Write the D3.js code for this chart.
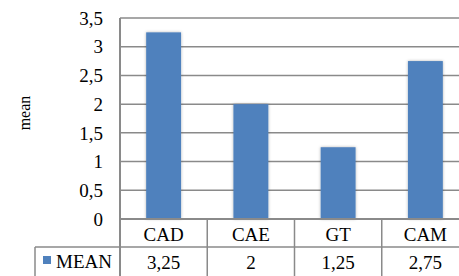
<!DOCTYPE html>
<html><head><meta charset="utf-8">
<script src="https://cdn.jsdelivr.net/npm/d3@7"></script>
<style>html,body{margin:0;padding:0;background:#fff;overflow:hidden}
svg text{font-family:"Liberation Serif","Times New Roman","DejaVu Serif",serif;}</style>
</head><body>
<svg id="c" width="459" height="276"></svg>
<script>
const categories = ["CAD", "CAE", "GT", "CAM"];
const values = [3.25, 2, 1.25, 2.75];
const valueLabels = ["3,25", "2", "1,25", "2,75"];
const yTicks = [0, 0.5, 1, 1.5, 2, 2.5, 3, 3.5];
const seriesName = "MEAN";
const axisTitle = "mean";

(function () {
const svg = d3.select("#c");
const pL = 120, pR = 469, pT = 18, pB = 219;
const rowLine = 247, tableBottom = 300;
const x = d3.scaleBand().domain(categories).range([pL, pR]).paddingInner(0).paddingOuter(0);
const y = d3.scaleLinear().domain([0, 3.5]).range([pB, pT]);
const grid = "#8a8a8a";

const defs = svg.append("defs");
const f = defs.append("filter").attr("id","sh").attr("x","-30%").attr("y","-10%").attr("width","160%").attr("height","120%");
f.append("feDropShadow").attr("dx",0).attr("dy",0).attr("stdDeviation",1.6).attr("flood-color","#000").attr("flood-opacity",0.3);

// gridlines
svg.append("g").selectAll("line").data(yTicks.filter(d => d > 0)).join("line")
  .attr("x1", pL).attr("x2", pR)
  .attr("y1", d => y(d)).attr("y2", d => y(d))
  .attr("stroke", grid).attr("stroke-width", 1.5);

// y axis
const yAxis = d3.axisLeft(y).tickValues(yTicks).tickSize(0).tickPadding(17)
  .tickFormat(d => String(d).replace(".", ","));
const ga = svg.append("g").attr("transform", `translate(${pL},0)`).call(yAxis);
ga.attr("font-family", null);
ga.select(".domain").remove();
ga.selectAll("text").style("font-size", "19px").attr("fill", "#000").attr("dy", "0.33em");

// bars
svg.append("g").selectAll("rect").data(values).join("rect")
  .attr("x", (d, i) => x(categories[i]) + x.bandwidth() * 0.3)
  .attr("width", x.bandwidth() * 0.4)
  .attr("y", d => y(d)).attr("height", d => y(0) - y(d))
  .attr("fill", "#4f81bd").attr("filter", "url(#sh)");

// table lines
const tl = svg.append("g").attr("stroke", grid).attr("stroke-width", 1.5);
tl.append("line").attr("x1", pL).attr("x2", pR).attr("y1", pB).attr("y2", pB).attr("stroke-width", 2);
tl.append("line").attr("x1", pL).attr("x2", pL).attr("y1", pT).attr("y2", tableBottom).attr("stroke-width", 2);
tl.append("line").attr("x1", 35).attr("x2", pR).attr("y1", rowLine).attr("y2", rowLine);
tl.append("line").attr("x1", 35).attr("x2", 35).attr("y1", rowLine).attr("y2", tableBottom);
tl.selectAll(".v").data(categories.slice(1)).join("line")
  .attr("x1", d => x(d)).attr("x2", d => x(d)).attr("y1", pB).attr("y2", tableBottom);

// category labels
svg.append("g").selectAll("text").data(categories).join("text")
  .attr("x", d => x(d) + x.bandwidth() / 2).attr("y", 241)
  .attr("text-anchor", "middle").style("font-size", "19px").text(d => d);
// value labels
svg.append("g").selectAll("text").data(valueLabels).join("text")
  .attr("x", (d, i) => x(categories[i]) + x.bandwidth() / 2).attr("y", 269)
  .attr("text-anchor", "middle").style("font-size", "19px").text(d => d);

// legend key
svg.append("rect").attr("x", 43).attr("y", 256).attr("width", 8).attr("height", 8).attr("fill", "#4f81bd");
svg.append("text").attr("x", 56).attr("y", 268).style("font-size", "19px").text(seriesName);

// axis title
svg.append("text").attr("transform", "translate(30,113) rotate(-90)")
  .attr("text-anchor", "middle").style("font-size", "16px").text(axisTitle);
})();
</script>
</body></html>
